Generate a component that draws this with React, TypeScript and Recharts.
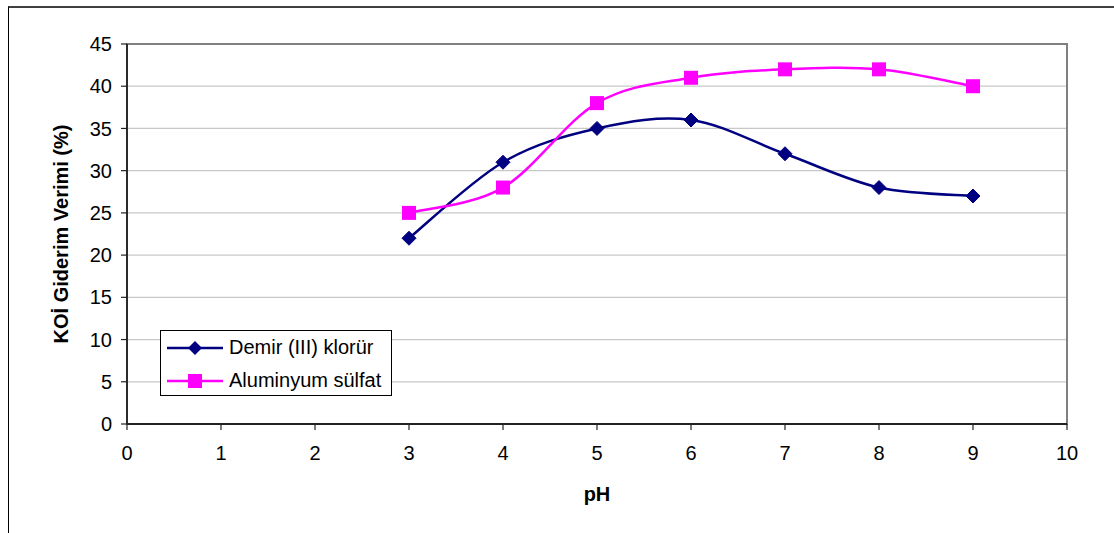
import React from 'react';
import {
  LineChart,
  Line,
  XAxis,
  YAxis,
  CartesianGrid,
  Legend,
  ReferenceArea,
} from 'recharts';

// pH values tested and COD removal efficiency (%) per coagulant
const phValues = [3, 4, 5, 6, 7, 8, 9];
const demirKlorur = [22, 31, 35, 36, 32, 28, 27];
const aluminyumSulfat = [25, 28, 38, 41, 42, 42, 40];

const xTicks = [0, 1, 2, 3, 4, 5, 6, 7, 8, 9, 10];
const yTicks = [0, 5, 10, 15, 20, 25, 30, 35, 40, 45];

const seriesNames = {
  demir: 'Demir (III) klorür',
  alum: 'Aluminyum sülfat',
};

const data = phValues.map((ph, i) => ({
  ph,
  demir: demirKlorur[i],
  alum: aluminyumSulfat[i],
}));

const NAVY = '#000080';
const MAGENTA = '#FF00FF';
const FONT = '"Liberation Sans", Arial, sans-serif';

// Smoothed line through every point (cubic Bezier, Catmull-Rom style tangents)
const smoothCurve = (context: any) => {
  let pts: number[][] = [];
  return {
    areaStart() {},
    areaEnd() {},
    lineStart() {
      pts = [];
    },
    point(x: number, y: number) {
      pts.push([+x, +y]);
    },
    lineEnd() {
      const n = pts.length;
      if (!n) return;
      context.moveTo(pts[0][0], pts[0][1]);
      for (let i = 0; i < n - 1; i++) {
        const p0 = pts[Math.max(i - 1, 0)];
        const p1 = pts[i];
        const p2 = pts[i + 1];
        const p3 = pts[Math.min(i + 2, n - 1)];
        context.bezierCurveTo(
          p1[0] + (p2[0] - p0[0]) / 6,
          p1[1] + (p2[1] - p0[1]) / 6,
          p2[0] - (p3[0] - p1[0]) / 6,
          p2[1] - (p3[1] - p1[1]) / 6,
          p2[0],
          p2[1]
        );
      }
    },
  };
};

const DiamondDot = (props: any) => {
  const { cx, cy } = props;
  if (cx == null || cy == null) return null;
  const r = 7;
  return (
    <polygon
      points={`${cx},${cy - r} ${cx + r},${cy} ${cx},${cy + r} ${cx - r},${cy}`}
      fill={NAVY}
      stroke={NAVY}
      strokeWidth={1}
    />
  );
};

const SquareDot = (props: any) => {
  const { cx, cy } = props;
  if (cx == null || cy == null) return null;
  const s = 14;
  return <rect x={cx - s / 2} y={cy - s / 2} width={s} height={s} fill={MAGENTA} />;
};

const LegendBox = () => {
  const rows = [
    { name: seriesNames.demir, color: NAVY, shape: 'diamond' },
    { name: seriesNames.alum, color: MAGENTA, shape: 'square' },
  ];
  return (
    <div
      style={{
        border: '1px solid #000',
        background: '#fff',
        width: 232,
        height: 66,
        boxSizing: 'border-box',
        padding: '0 0 0 6px',
        fontFamily: FONT,
        fontSize: 20,
        color: '#000',
      }}
    >
      {rows.map((r) => (
        <div
          key={r.name}
          style={{ display: 'flex', alignItems: 'center', height: 33, whiteSpace: 'nowrap' }}
        >
          <svg width={56} height={16} style={{ marginRight: 6, flex: 'none' }}>
            <line x1={0} y1={8} x2={56} y2={8} stroke={r.color} strokeWidth={2.5} />
            {r.shape === 'diamond' ? (
              <polygon points="28,1 35,8 28,15 21,8" fill={r.color} />
            ) : (
              <rect x={21} y={1} width={14} height={14} fill={r.color} />
            )}
          </svg>
          <span>{r.name}</span>
        </div>
      ))}
    </div>
  );
};

export default function App() {
  return (
    <div
      style={{
        position: 'absolute',
        left: 0,
        top: 0,
        width: 1114,
        height: 533,
        overflow: 'hidden',
        background: '#fff',
        fontFamily: FONT,
      }}
    >
      <div
        style={{
          position: 'absolute',
          left: 8,
          top: 6,
          width: 1200,
          height: 600,
          borderTop: '2px solid #404040',
          borderLeft: '1px solid #000',
        }}
      />
      <div style={{ position: 'absolute', left: 0, top: 0 }}>
        <LineChart
          width={1114}
          height={533}
          data={data}
          margin={{ top: 44, right: 47, bottom: 79, left: 67 }}
        >
          <ReferenceArea
            x1={0}
            x2={10}
            y1={0}
            y2={45}
            fill="none"
            stroke="#808080"
            strokeWidth={2}
            ifOverflow="extendDomain"
          />
          <CartesianGrid horizontal vertical={false} stroke="#c8c8c8" strokeWidth={1.2} />
          <XAxis
            type="number"
            dataKey="ph"
            domain={[0, 10]}
            ticks={xTicks}
            interval={0}
            height={30}
            tickSize={6}
            tickMargin={16}
            axisLine={{ stroke: '#222', strokeWidth: 1.8 }}
            tickLine={{ stroke: '#222', strokeWidth: 1.2 }}
            tick={{ fill: '#000', fontSize: 20, fontFamily: FONT }}
            label={{
              content: (p: any) => {
                const vb = p.viewBox || { x: 127, y: 424, width: 940, height: 30 };
                return (
                  <text
                    x={vb.x + vb.width / 2}
                    y={vb.y + 70}
                    textAnchor="middle"
                    dominantBaseline="central"
                    fontFamily={FONT}
                    fontWeight="bold"
                    fontSize={20}
                    fill="#000"
                  >
                    pH
                  </text>
                );
              },
            }}
          />
          <YAxis
            type="number"
            domain={[0, 45]}
            ticks={yTicks}
            interval={0}
            width={60}
            tickSize={6}
            tickMargin={9}
            axisLine={{ stroke: '#222', strokeWidth: 1.8 }}
            tickLine={{ stroke: '#222', strokeWidth: 1.2 }}
            tick={{ fill: '#000', fontSize: 20, fontFamily: FONT }}
            label={{
              content: (p: any) => {
                const vb = p.viewBox || { x: 67, y: 44, width: 60, height: 380 };
                const cx = vb.x - 6;
                const cy = vb.y + vb.height / 2;
                return (
                  <text
                    x={cx}
                    y={cy}
                    transform={`rotate(-90, ${cx}, ${cy})`}
                    textAnchor="middle"
                    dominantBaseline="central"
                    fontFamily={FONT}
                    fontWeight="bold"
                    fontSize={20}
                    fill="#000"
                  >
                    KOİ Giderim Verimi (%)
                  </text>
                );
              },
            }}
          />
          <Line
            dataKey="demir"
            name={seriesNames.demir}
            type={smoothCurve as any}
            stroke={NAVY}
            strokeWidth={2.5}
            dot={<DiamondDot />}
            activeDot={false}
            isAnimationActive={false}
          />
          <Line
            dataKey="alum"
            name={seriesNames.alum}
            type={smoothCurve as any}
            stroke={MAGENTA}
            strokeWidth={2.5}
            dot={<SquareDot />}
            activeDot={false}
            isAnimationActive={false}
          />
          <Legend
            layout="vertical"
            align="center"
            verticalAlign="middle"
            content={() => <LegendBox />}
            wrapperStyle={{ position: 'absolute', left: 160, top: 330, width: 232, height: 66 }}
          />
        </LineChart>
      </div>
    </div>
  );
}
